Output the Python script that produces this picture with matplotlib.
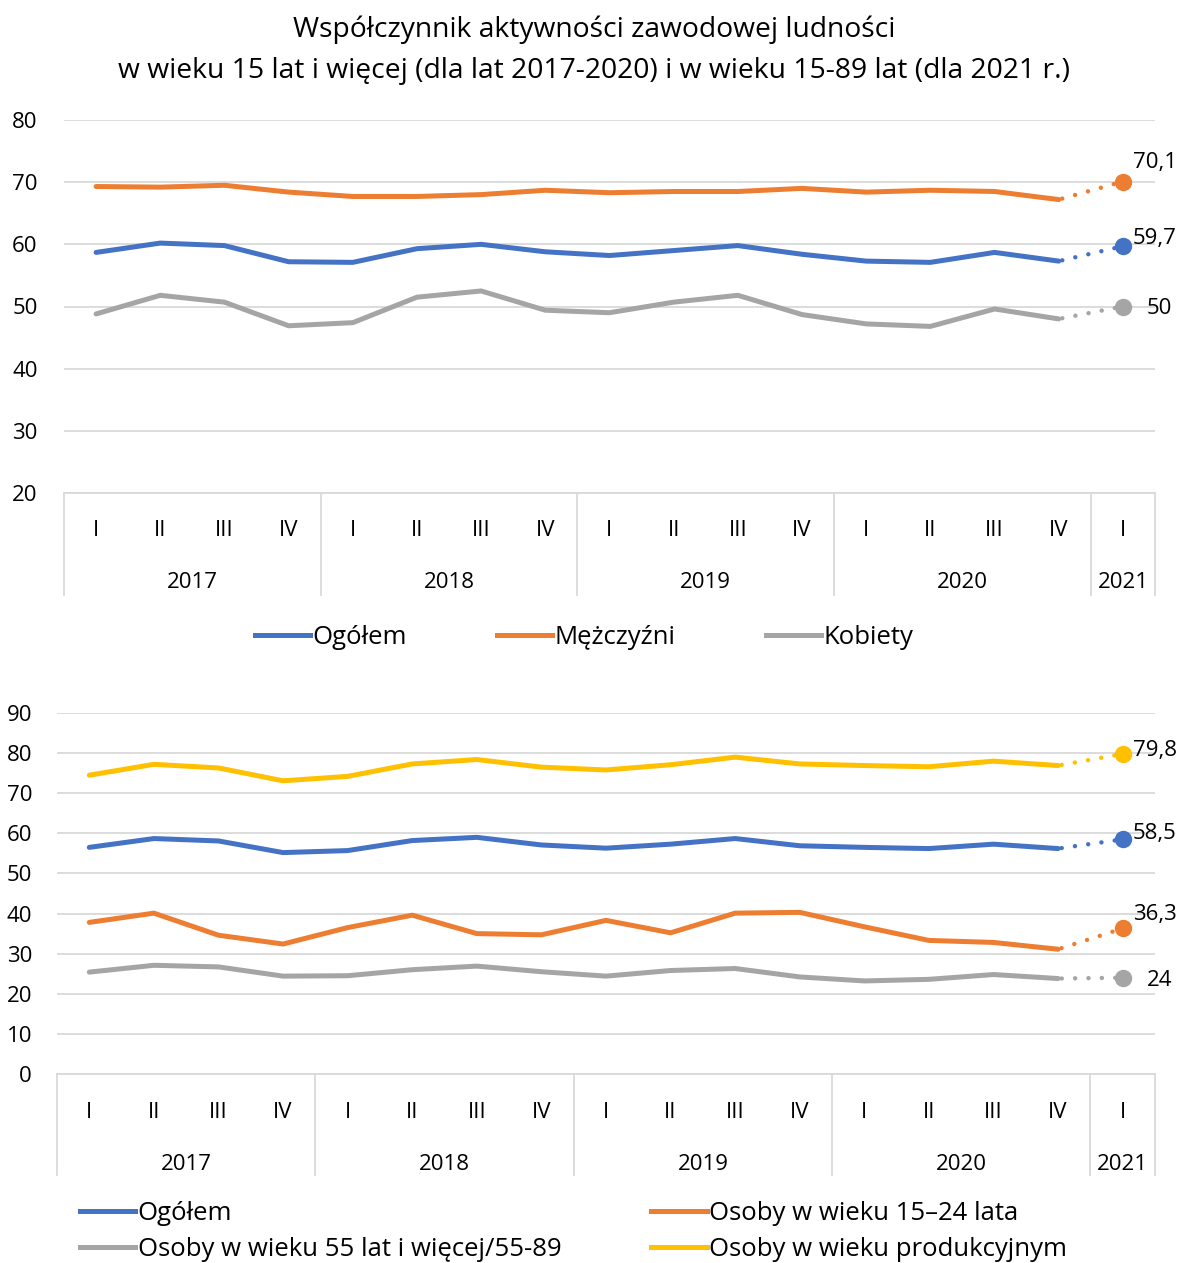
import matplotlib
matplotlib.use("Agg")
import matplotlib.pyplot as plt
from matplotlib.lines import Line2D
import matplotlib.transforms as mtransforms

plt.rcParams['font.family'] = ['Open Sans', 'DejaVu Sans']

quarters = ["I", "II", "III", "IV"] * 4 + ["I"]
years = ["2017", "2018", "2019", "2020", "2021"]
year_sizes = [4, 4, 4, 4, 1]

# Top chart
top_ogolem = [58.7, 60.2, 59.8, 57.2, 57.1, 59.3, 60.0, 58.8, 58.2, 59.0, 59.8, 58.4, 57.3, 57.1, 58.7, 57.3, 59.7]
top_mezczyzni = [69.3, 69.2, 69.5, 68.4, 67.7, 67.7, 68.0, 68.7, 68.3, 68.5, 68.5, 69.0, 68.4, 68.7, 68.5, 67.2, 70.1]
top_kobiety = [48.8, 51.8, 50.7, 46.9, 47.4, 51.5, 52.5, 49.4, 49.0, 50.7, 51.8, 48.7, 47.2, 46.8, 49.6, 48.0, 50.0]
top_labels = ["59,7", "70,1", "50"]

# Bottom chart
bot_ogolem = [56.5, 58.7, 58.1, 55.2, 55.7, 58.2, 59.0, 57.1, 56.3, 57.3, 58.7, 56.9, 56.5, 56.2, 57.3, 56.2, 58.5]
bot_15_24 = [37.8, 40.1, 34.6, 32.4, 36.5, 39.6, 35.0, 34.7, 38.3, 35.2, 40.1, 40.3, 36.7, 33.3, 32.8, 31.1, 36.3]
bot_55 = [25.4, 27.1, 26.7, 24.4, 24.5, 26.0, 26.9, 25.5, 24.4, 25.8, 26.3, 24.2, 23.2, 23.6, 24.8, 23.8, 24.0]
bot_prod = [74.5, 77.2, 76.3, 73.1, 74.2, 77.3, 78.4, 76.5, 75.8, 77.1, 79.0, 77.3, 76.9, 76.6, 78.0, 76.9, 79.8]
bot_labels = ["58,5", "36,3", "24", "79,8"]

BLUE = "#4472C4"
ORANGE = "#ED7D31"
GRAY = "#A5A5A5"
YELLOW = "#FFC000"
GRID = "#D9D9D9"

TICK_FS = 16
LEG_FS = 18.5
TITLE_FS = 20.3

W, H = 1178, 1263
fig = plt.figure(figsize=(W / 100, H / 100), dpi=100)

fig.text(594 / W, 1 - 30 / H, "Współczynnik aktywności zawodowej ludności",
         ha="center", va="center", fontsize=TITLE_FS, color="#000000")
fig.text(594 / W, 1 - 71 / H, "w wieku 15 lat i więcej (dla lat 2017-2020) i w wieku 15-89 lat (dla 2021 r.)",
         ha="center", va="center", fontsize=TITLE_FS, color="#000000")


def make_axes(left_px, right_px, top_px, bottom_px):
    return fig.add_axes([left_px / W, 1 - bottom_px / H, (right_px - left_px) / W, (bottom_px - top_px) / H])


def draw_series(ax, values, color, label_text, label_offset):
    n = len(values)
    xs = list(range(n))
    ax.plot(xs[:-1], values[:-1], color=color, lw=3.6, solid_capstyle="round",
            solid_joinstyle="round", zorder=3)
    ax.plot(xs[-2:], values[-2:], color=color, lw=3.2, linestyle=(2.2, (0.01, 3.0)),
            dash_capstyle="round", zorder=3)
    ax.plot([xs[-1]], [values[-1]], marker="o", markersize=11.5, color=color,
            linestyle="none", zorder=4)
    ax.annotate(label_text, xy=(xs[-1], values[-1]), xytext=label_offset,
                textcoords="offset pixels", ha="left", va="center",
                fontsize=TICK_FS, color="#000000", annotation_clip=False)
    return Line2D([0], [0], color=color, lw=3.6)


def style_axes(ax, ylim, yticks, height_px, q_off, y_off, sep_off, ypad):
    ax.set_xlim(-0.5, 16.5)
    ax.set_ylim(*ylim)
    ax.set_yticks(yticks)
    ax.set_yticklabels([str(t) for t in yticks])
    ax.tick_params(axis="y", length=0, pad=ypad, labelsize=TICK_FS, labelcolor="#000000")
    ax.set_xticks([])
    for s in ["top", "right", "left"]:
        ax.spines[s].set_visible(False)
    ax.spines["bottom"].set_color(GRID)
    ax.spines["bottom"].set_linewidth(1.3)
    ax.grid(axis="y", color=GRID, lw=1.3, zorder=0)
    ax.set_axisbelow(True)
    trans = mtransforms.blended_transform_factory(ax.transData, ax.transAxes)
    for i, q in enumerate(quarters):
        ax.text(i, -q_off / height_px, q, transform=trans, ha="center", va="center",
                fontsize=TICK_FS, color="#000000")
    start = 0
    bounds = [-0.5]
    for y, s in zip(years, year_sizes):
        center = start + (s - 1) / 2
        ax.text(center, -y_off / height_px, y, transform=trans, ha="center", va="center",
                fontsize=TICK_FS, color="#000000")
        start += s
        bounds.append(start - 0.5)
    for b in bounds:
        ax.add_line(Line2D([b, b], [0, -sep_off / height_px], transform=trans,
                           color=GRID, lw=1.3, clip_on=False))


# ---- Top chart ----
ax1 = make_axes(64, 1155, 120, 493)
style_axes(ax1, (20, 80), [20, 30, 40, 50, 60, 70, 80], 373, 37, 89, 102, 19)
h1 = draw_series(ax1, top_ogolem, BLUE, top_labels[0], (10, 8))
h2 = draw_series(ax1, top_mezczyzni, ORANGE, top_labels[1], (10, 19))
h3 = draw_series(ax1, top_kobiety, GRAY, top_labels[2], (24, -2))
fig.legend([h1, h2, h3], ["Ogółem", "Mężczyźni", "Kobiety"],
           loc="center", bbox_to_anchor=(584 / W, 1 - 637 / H), ncol=3,
           frameon=False, fontsize=LEG_FS, handlelength=2.15, handletextpad=0.1,
           columnspacing=3.5, borderpad=0)

# ---- Bottom chart ----
ax2 = make_axes(57, 1155, 713, 1074)
style_axes(ax2, (0, 90), list(range(0, 100, 10)), 361, 38, 90, 101, 18)
g1 = draw_series(ax2, bot_ogolem, BLUE, bot_labels[0], (10, 6))
g2 = draw_series(ax2, bot_15_24, ORANGE, bot_labels[1], (10, 14))
g3 = draw_series(ax2, bot_55, GRAY, bot_labels[2], (24, -3))
g4 = draw_series(ax2, bot_prod, YELLOW, bot_labels[3], (10, 3))
fig.legend([g1, g3, g2, g4],
           ["Ogółem", "Osoby w wieku 55 lat i więcej/55-89",
            "Osoby w wieku 15–24 lata", "Osoby w wieku produkcyjnym"],
           loc="upper left", bbox_to_anchor=(80 / W, 1 - 1201 / H), ncol=2,
           frameon=False, fontsize=LEG_FS, handlelength=2.15, handletextpad=0.1,
           columnspacing=3.5, borderpad=0, borderaxespad=0, labelspacing=0.42)

fig.savefig("out.png", dpi=100)
